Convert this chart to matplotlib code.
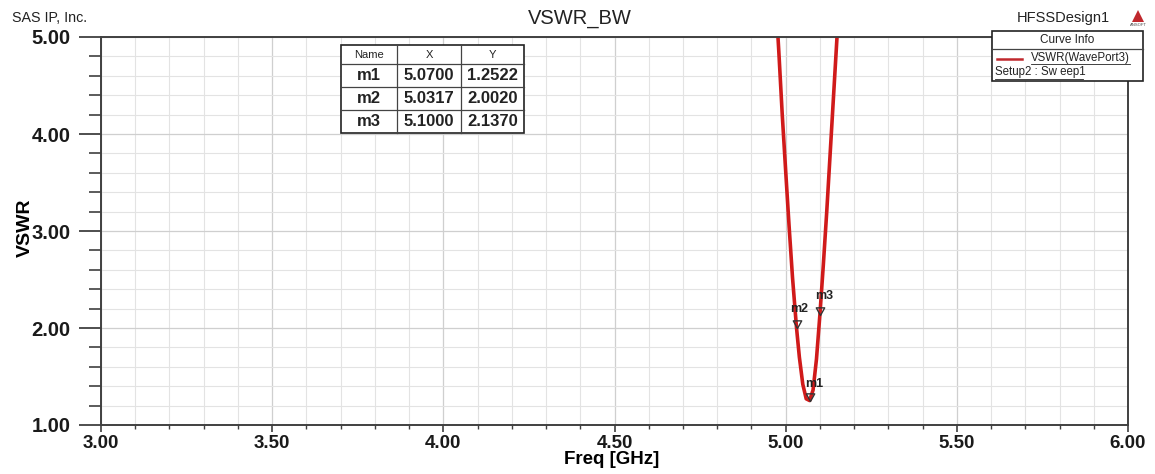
import matplotlib
matplotlib.use("Agg")
import matplotlib.pyplot as plt
from matplotlib.ticker import MultipleLocator, FormatStrFormatter
from matplotlib.path import Path
import numpy as np

plt.rcParams['font.family'] = ['Liberation Sans', 'DejaVu Sans']

# ---- data ----
freq = [4.970, 4.980, 4.990, 5.000, 5.010, 5.020, 5.0317, 5.040, 5.050, 5.060,
        5.070, 5.080, 5.090, 5.100, 5.110, 5.120, 5.130, 5.140, 5.150, 5.160]
vswr = [5.45, 4.85, 4.20, 3.62, 3.05, 2.52, 2.002, 1.70, 1.42, 1.27,
        1.2522, 1.36, 1.68, 2.137, 2.65, 3.20, 3.80, 4.40, 5.00, 5.60]
marker_names = ["m1", "m2", "m3"]
marker_x = [5.0700, 5.0317, 5.1000]
marker_y = [1.2522, 2.0020, 2.1370]
x_ticks = [3.00, 3.50, 4.00, 4.50, 5.00, 5.50, 6.00]
y_ticks = [1.00, 2.00, 3.00, 4.00, 5.00]

W, H = 1155, 474
fig = plt.figure(figsize=(W / 100, H / 100), dpi=100)
L, R, T, B = 101, 1128, 37, 425
ax = fig.add_axes([L / W, 1 - B / H, (R - L) / W, (B - T) / H])

ax.set_xlim(3.0, 6.0)
ax.set_ylim(1.0, 5.0)
ax.set_xticks(x_ticks)
ax.set_yticks(y_ticks)
ax.xaxis.set_minor_locator(MultipleLocator(0.1))
ax.yaxis.set_minor_locator(MultipleLocator(0.2))
ax.xaxis.set_major_formatter(FormatStrFormatter('%.2f'))
ax.yaxis.set_major_formatter(FormatStrFormatter('%.2f'))

ax.grid(which='major', color='#cfcfcf', linewidth=0.9)
ax.grid(which='minor', color='#e3e3e3', linewidth=0.8)
ax.set_axisbelow(True)

for s in ax.spines.values():
    s.set_color('#404040')
    s.set_linewidth(1.4)

ax.tick_params(axis='y', which='major', length=16, width=1.3, color='#404040',
               labelsize=14.5, pad=6)
ax.tick_params(axis='y', which='minor', length=9, width=1.2, color='#404040')
ax.tick_params(axis='x', which='major', length=5, width=1.2, color='#404040',
               labelsize=13.5, pad=2.5)
ax.tick_params(axis='x', which='minor', length=3, width=1.0, color='#404040')
for lab in ax.get_xticklabels() + ax.get_yticklabels():
    lab.set_fontweight('bold')
    lab.set_color('#1a1a1a')

ax.set_xlabel('Freq [GHz]', fontsize=13.5, fontweight='bold', va='center')
ax.xaxis.set_label_coords((612 - L) / (R - L), -(460 - B) / (B - T))
ax.set_ylabel('VSWR', fontsize=14, fontweight='bold', va='center', ha='center')
ax.yaxis.set_label_coords((25 - L) / (R - L), (B - 228) / (B - T))

ax.plot(freq, vswr, color='#d01a1a', linewidth=2.6, solid_joinstyle='round')

# markers: downward triangle with apex on the data point
tri = Path([(0, 0), (-0.55, 1.0), (0.55, 1.0), (0, 0)],
           [Path.MOVETO, Path.LINETO, Path.LINETO, Path.CLOSEPOLY])
offsets_px = {"m1": (5, 17), "m2": (3, 19), "m3": (4, 19)}
for n, mx, my in zip(marker_names, marker_x, marker_y):
    ax.plot([mx], [my], marker=tri, markersize=11, markerfacecolor='none',
            markeredgecolor='#333333', markeredgewidth=1.0, linestyle='none')
    dx, dy = offsets_px[n]
    ax.annotate(n, (mx, my), xytext=(dx * 0.72, dy * 0.72), textcoords='offset points',
                fontsize=9, fontweight='bold', color='#222222',
                ha='center', va='center')

# marker table
tbl_x0, tbl_y0 = 341, 45
col_w = [56, 64, 63]
row_h = [19, 23, 23, 23]
rows = [["Name", "X", "Y"]] + [[n, f"{x:.4f}", f"{y:.4f}"]
                                for n, x, y in zip(marker_names, marker_x, marker_y)]
tw = sum(col_w)
th = sum(row_h)
fig.patches.append(plt.Rectangle((tbl_x0 / W, 1 - (tbl_y0 + th) / H), tw / W, th / H,
                                 transform=fig.transFigure, facecolor='white',
                                 edgecolor='#222222', linewidth=1.2, zorder=5))
yy = tbl_y0
for ri, row in enumerate(rows):
    xx = tbl_x0
    for ci, cell in enumerate(row):
        fig.text((xx + col_w[ci] / 2) / W, 1 - (yy + row_h[ri] / 2) / H, cell,
                 ha='center', va='center',
                 fontsize=8 if ri == 0 else 12,
                 fontweight='normal' if ri == 0 else 'bold',
                 color='#222222', zorder=6)
        xx += col_w[ci]
    yy += row_h[ri]
    if ri < len(rows) - 1:
        fig.add_artist(plt.Line2D([tbl_x0 / W, (tbl_x0 + tw) / W],
                                  [1 - yy / H, 1 - yy / H], color='#444444',
                                  linewidth=0.9, transform=fig.transFigure, zorder=6))
xx = tbl_x0
for cw in col_w[:-1]:
    xx += cw
    fig.add_artist(plt.Line2D([xx / W, xx / W], [1 - tbl_y0 / H, 1 - (tbl_y0 + th) / H],
                              color='#444444', linewidth=0.9,
                              transform=fig.transFigure, zorder=6))

# curve info box
bx0, by0, bx1, by1 = 992, 31, 1143, 81
fig.patches.append(plt.Rectangle((bx0 / W, 1 - by1 / H), (bx1 - bx0) / W, (by1 - by0) / H,
                                 transform=fig.transFigure, facecolor='white',
                                 edgecolor='#222222', linewidth=1.2, zorder=5))
fig.add_artist(plt.Line2D([bx0 / W, bx1 / W], [1 - 49 / H, 1 - 49 / H], color='#444444',
                          linewidth=0.9, transform=fig.transFigure, zorder=6))
fig.text((bx0 + bx1) / 2 / W, 1 - 40 / H, 'Curve Info', ha='center', va='center',
         fontsize=8.5, color='#222222', zorder=6)
fig.add_artist(plt.Line2D([997 / W, 1022 / W], [1 - 59 / H, 1 - 59 / H], color='#c0282d',
                          linewidth=1.8, transform=fig.transFigure, zorder=6))
fig.text(1031 / W, 1 - 58 / H, 'VSWR(WavePort3)', ha='left', va='center',
         fontsize=8.3, color='#222222', zorder=6)
fig.text(995 / W, 1 - 72.5 / H, 'Setup2 : Sw eep1', ha='left', va='center',
         fontsize=8.3, color='#222222', zorder=6)
fig.add_artist(plt.Line2D([1031 / W, 1130 / W], [1 - 64 / H, 1 - 64 / H],
                          color='#222222', linewidth=0.6,
                          transform=fig.transFigure, zorder=6))
fig.add_artist(plt.Line2D([995 / W, 1083 / W], [1 - 78.5 / H, 1 - 78.5 / H],
                          color='#222222', linewidth=0.6,
                          transform=fig.transFigure, zorder=6))

# header texts
fig.text(12 / W, 1 - 18 / H, 'SAS IP, Inc.', ha='left', va='center', fontsize=10.3,
         color='#222222')
fig.text(580 / W, 1 - 18 / H, 'VSWR_BW', ha='center', va='center', fontsize=14.5,
         color='#222222')
fig.text(1110 / W, 1 - 18 / H, 'HFSSDesign1', ha='right', va='center', fontsize=10.5,
         color='#222222')
fig.patches.append(plt.Polygon([[1132 / W, 1 - 22 / H], [1144 / W, 1 - 22 / H],
                                [1138 / W, 1 - 10 / H]], closed=True,
                               transform=fig.transFigure, facecolor='#c0282d',
                               edgecolor='none'))
fig.text(1138 / W, 1 - 25 / H, 'ANSOFT', ha='center', va='center', fontsize=3,
         color='#444444')

fig.savefig('out.png', dpi=100, facecolor='white')
